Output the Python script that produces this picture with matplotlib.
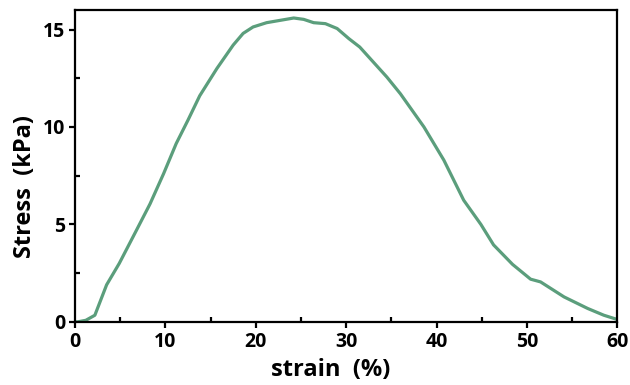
import numpy as np
import matplotlib
matplotlib.use('Agg')
import matplotlib.pyplot as plt
from matplotlib.ticker import MultipleLocator

# stress-strain curve
strain = [0.0, 0.3, 1.2, 2.2, 3.5, 4.9, 6.8, 8.3, 9.8, 11.2, 12.5, 13.8,
          15.7, 17.5, 18.6, 19.7, 21.2, 22.7, 24.2, 25.3, 26.4, 27.7,
          29.0, 30.3, 31.5, 33.0, 34.5, 36.0, 38.6, 40.8, 43.0, 44.9,
          46.3, 48.4, 50.4, 51.5, 54.1, 56.7, 58.5, 60.0]
stress = [0.0, 0.0, 0.08, 0.34, 1.9, 3.0, 4.7, 6.05, 7.6, 9.15, 10.35, 11.6,
          13.0, 14.2, 14.8, 15.13, 15.35, 15.47, 15.59, 15.52, 15.35, 15.3,
          15.05, 14.53, 14.1, 13.33, 12.56, 11.7, 10.0, 8.3, 6.24, 5.0,
          3.95, 2.95, 2.19, 2.05, 1.28, 0.69, 0.34, 0.12]

plt.rcParams['font.family'] = ['Open Sans', 'DejaVu Sans']
plt.rcParams['font.weight'] = 'bold'

fig = plt.figure(figsize=(6.3, 3.85), dpi=100)
ax = fig.add_axes([0.119, 0.164, 0.861, 0.81])

ax.plot(strain, stress, color="#5B9E7C", lw=2.3, solid_capstyle='round')

ax.set_xlim(0, 60)
ax.set_ylim(0, 16)
ax.xaxis.set_major_locator(MultipleLocator(10))
ax.xaxis.set_minor_locator(MultipleLocator(5))
ax.yaxis.set_major_locator(MultipleLocator(5))
ax.yaxis.set_minor_locator(MultipleLocator(2.5))

ax.tick_params(which='major', direction='out', length=4.5, width=1.6,
               labelsize=14, pad=2.5)
ax.tick_params(which='minor', direction='in', length=3.5, width=1.6)
for lab in ax.get_xticklabels() + ax.get_yticklabels():
    lab.set_fontweight('bold')

for sp in ax.spines.values():
    sp.set_linewidth(1.6)

ax.set_xlabel("strain  (%)", fontsize=17, fontweight='bold')
ax.set_ylabel("Stress  (kPa)", fontsize=17, fontweight='bold')
ax.xaxis.set_label_coords(0.472, -0.117)
ax.yaxis.set_label_coords(-0.07, 0.435)

plt.savefig("out.png", dpi=100)
plt.close()
